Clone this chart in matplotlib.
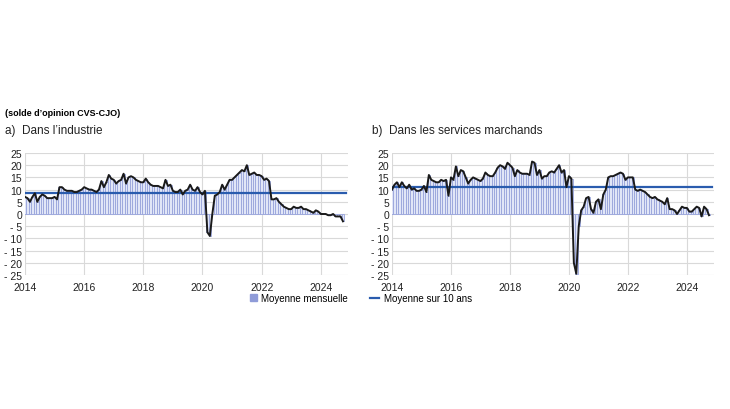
import numpy as np
import matplotlib.pyplot as plt
from matplotlib.patches import Patch
from matplotlib.lines import Line2D

plt.rcParams['font.family'] = ['Liberation Sans Narrow', 'Liberation Sans', 'DejaVu Sans']

# industry balance of opinion, monthly, Jan 2014 - Oct 2024
industrie = [
    7, 6.5, 5, 7, 8.5, 5, 7, 8, 7.5, 6.5, 6.5, 6.5,
    7, 6, 11, 11, 10, 9.5, 9.5, 9.5, 9, 9, 9.5, 10,
    11, 10.5, 10, 10, 9.5, 9, 10, 13.5, 11, 13, 16, 14.5,
    14, 12.5, 13.5, 14, 16.5, 12.5, 15, 15.5, 15, 14, 13.5, 13,
    13, 14.5, 13, 12, 11.5, 11.5, 11.5, 11, 10.5, 14, 11.5, 12,
    9.5, 9, 9, 10, 8, 9.5, 10, 12, 10, 9.5, 11, 9,
    8, 9.5, -7.5, -9, 0, 7.5, 8, 9, 12, 10, 12, 14,
    14, 15, 16, 17, 18, 17.5, 20, 16, 16.5, 17, 16, 16,
    15.5, 14, 14.5, 13.5, 6, 6, 6.5, 5, 4, 3, 2.5, 2,
    2, 3, 2.5, 2.5, 3, 2, 2, 1.5, 1, 0.5, 1.5, 1,
    0, 0, 0, -0.5, -0.5, 0, -1, -1, -1, -3,
]

# market services balance of opinion, same months
services = [
    10, 12, 13, 11, 13, 11.5, 10.5, 12, 10, 10.5, 9.5, 9.5,
    10, 11.5, 9, 16, 14, 13.5, 13, 13, 14, 13.5, 14, 7.5,
    15, 14, 19.5, 15.5, 18, 17.5, 15, 12.5, 14, 15, 14.5, 14,
    13.5, 14.5, 17, 16, 15.5, 15.5, 17, 19, 20, 19.5, 18.5, 21,
    20, 19, 15.5, 18, 17, 16.5, 16.5, 16.5, 16, 21.5, 21, 16,
    18, 14.5, 15.5, 15.5, 17, 17.5, 17, 18.5, 20, 17, 18, 11,
    15.5, 14.5, -20, -24.5, -5, 1.5, 3, 6.5, 7, 2, 0.5, 5,
    6, 2, 8, 10, 15, 15.5, 15.5, 16, 16.5, 17, 16.5, 14,
    15, 15, 15, 10, 9.5, 10, 9.5, 9, 8, 7, 6.5, 7,
    6, 5.5, 5, 4, 6.5, 2, 2, 1.5, 0, 1.5, 3, 2.5,
    2.5, 1, 1, 2, 3, 2.5, -1, 3, 2, -0.5,
]

moyenne_industrie = 8.5
moyenne_services = 11

years = [2014, 2016, 2018, 2020, 2022, 2024]
yticks = [25, 20, 15, 10, 5, 0, -5, -10, -15, -20, -25]
ylabels = [str(v) if v >= 0 else '- ' + str(-v) for v in yticks]

fig = plt.figure(figsize=(7.3, 4.1), dpi=100)

fig.text(5 / 730, 1 - 113 / 410, '(solde d\u2019opinion CVS-CJO)', fontsize=6.5,
         fontweight='bold', va='center', family=['Liberation Sans', 'DejaVu Sans'])
fig.text(5 / 730, 1 - 131 / 410, 'a)  Dans l\u2019industrie', fontsize=8.5, va='center',
         family=['Liberation Sans', 'DejaVu Sans'], color='#222222')
fig.text(372 / 730, 1 - 131 / 410, 'b)  Dans les services marchands', fontsize=8.5,
         va='center', family=['Liberation Sans', 'DejaVu Sans'], color='#222222')


def draw(ax, vals, moy):
    x = 2014 + np.arange(len(vals)) / 12
    ax.bar(x, vals, width=1 / 12, color='#e1e6f7', edgecolor='#97a3db', lw=0.6,
           align='center', zorder=2)
    ax.plot(x, vals, color='#1a1a1a', lw=1.4, zorder=4)
    ax.axhline(moy, color='#2a5cae', lw=1.6, zorder=3, xmax=0.995)
    ax.set_xlim(2014, 2024.92)
    ax.set_ylim(-25, 25)
    ax.set_xticks(years)
    ax.set_yticks(yticks)
    ax.set_yticklabels(ylabels)
    ax.grid(True, color='#d9d9d9', lw=0.8, zorder=0)
    for s in ax.spines.values():
        s.set_visible(False)
    ax.tick_params(length=0, labelsize=7.5, colors='#222222')
    ax.tick_params(axis='y', pad=2)
    ax.tick_params(axis='x', pad=5)


ax1 = fig.add_axes([25 / 730, 1 - 276 / 410, 323 / 730, 122 / 410])
draw(ax1, industrie, moyenne_industrie)
ax2 = fig.add_axes([392 / 730, 1 - 276 / 410, 322 / 730, 122 / 410])
draw(ax2, services, moyenne_services)

fig.legend(handles=[Patch(color='#8f9bd8', label='Moyenne mensuelle')],
           loc='center right', bbox_to_anchor=(348 / 730, 1 - 299 / 410), frameon=False,
           fontsize=7, handlelength=0.8, handleheight=0.8, handletextpad=0.4,
           borderaxespad=0, borderpad=0)
fig.legend(handles=[Line2D([], [], color='#2a5cae', lw=1.6, label='Moyenne sur 10 ans')],
           loc='center left', bbox_to_anchor=(370 / 730, 1 - 299 / 410), frameon=False,
           fontsize=7, handlelength=0.9, handletextpad=0.5,
           borderaxespad=0, borderpad=0)

fig.savefig('out.png', dpi=100)
